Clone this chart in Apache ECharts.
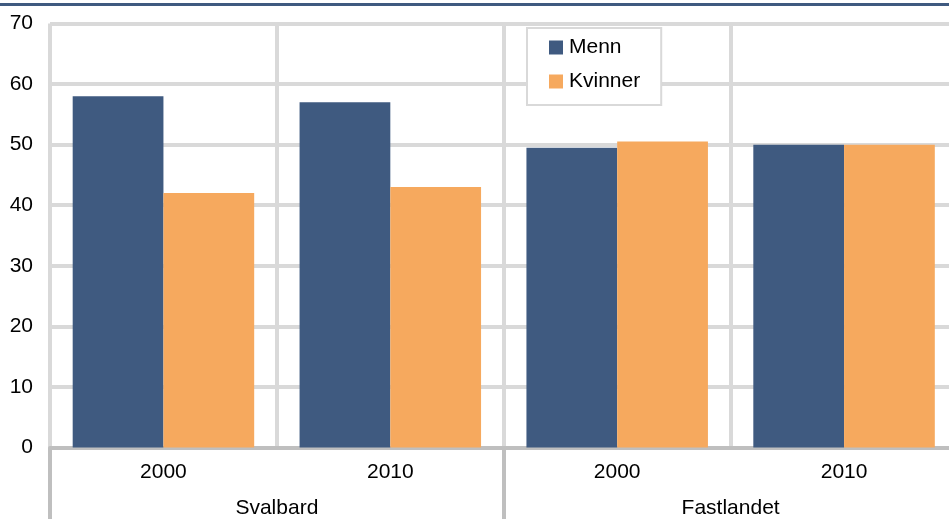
<!DOCTYPE html>
<html>
<head>
<meta charset="utf-8">
<script src="https://cdn.jsdelivr.net/npm/echarts@6/dist/echarts.min.js"></script>
<style>
html,body{margin:0;padding:0;background:#fff;}
#chart{width:949px;height:519px;}
</style>
</head>
<body>
<div id="chart"></div>
<script>
var years = ['2000', '2010', '2000', '2010'];
var regions = ['Svalbard', 'Fastlandet'];
var menn = [58, 57, 49.5, 50];
var kvinner = [42, 43, 50.5, 50];
var yTicks = [0, 10, 20, 30, 40, 50, 60, 70];

var FONT = "'Liberation Sans', Arial, sans-serif";
var chart = echarts.init(document.getElementById('chart'), null, {renderer: 'canvas'});
chart.setOption({
  animation: false,
  backgroundColor: '#ffffff',
  textStyle: {fontFamily: FONT},
  graphic: [{
    type: 'rect', left: 0, top: 3, shape: {width: 949, height: 3},
    style: {fill: '#3f5a80'}, z: 100
  }],
  legend: {
    orient: 'vertical',
    left: 527, top: 28,
    padding: [9, 21, 13, 22],
    itemGap: 13,
    itemWidth: 14, itemHeight: 14,
    icon: 'rect',
    backgroundColor: '#ffffff',
    borderColor: '#d9d9d9', borderWidth: 2,
    textStyle: {fontFamily: FONT, fontSize: 21, color: '#000', padding: [0, 0, 0, 1]},
    data: ['Menn', 'Kvinner']
  },
  grid: {left: 50, top: 23.5, width: 907.5, height: 424, containLabel: false, outerBoundsMode: 'none'},
  xAxis: [{
    type: 'category',
    data: years,
    position: 'bottom',
    axisLine: {show: true, lineStyle: {color: '#bfbfbf', width: 4}},
    axisTick: {show: false},
    splitLine: {show: true, lineStyle: {color: '#d9d9d9', width: 4}},
    axisLabel: {fontFamily: FONT, fontSize: 21, color: '#000', margin: 14, interval: 0}
  }, {
    type: 'category',
    data: regions,
    position: 'bottom',
    axisLine: {show: false},
    axisTick: {show: true, length: 75, interval: 0, lineStyle: {color: '#bfbfbf', width: 4}},
    splitLine: {show: false},
    axisLabel: {fontFamily: FONT, fontSize: 21, color: '#000', margin: 50, interval: 0}
  }],
  yAxis: {
    type: 'value',
    min: 0, max: 70, interval: 10,
    axisLine: {show: false},
    axisTick: {show: false},
    splitLine: {show: true, lineStyle: {color: '#d9d9d9', width: 4}},
    axisLabel: {fontFamily: FONT, fontSize: 21, color: '#000', margin: 17,
      formatter: function (v) { return yTicks.indexOf(v) >= 0 ? String(v) : ''; }}
  },
  series: [{
    name: 'Menn', type: 'bar', xAxisIndex: 0, data: menn,
    itemStyle: {color: '#3f5a80'},
    barGap: 0, barCategoryGap: '20%'
  }, {
    name: 'Kvinner', type: 'bar', xAxisIndex: 0, data: kvinner,
    itemStyle: {color: '#f6a95e'},
    barGap: 0, barCategoryGap: '20%'
  }]
});
</script>
</body>
</html>
